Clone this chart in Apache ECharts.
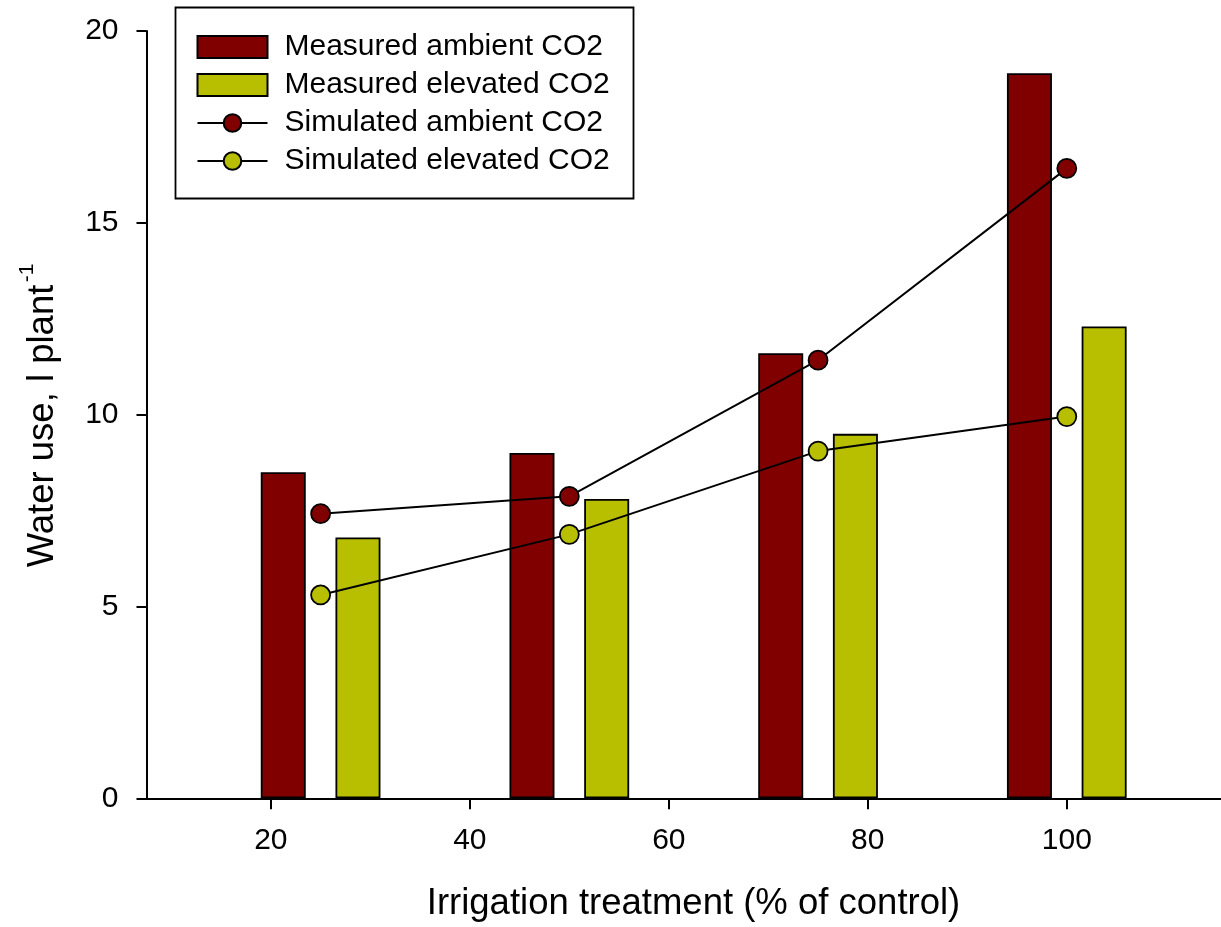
<!DOCTYPE html>
<html>
<head>
<meta charset="utf-8">
<script src="https://cdn.jsdelivr.net/npm/echarts@6/dist/echarts.min.js"></script>
<style>
  html, body { margin: 0; padding: 0; background: #fff; }
  #chart { width: 1221px; height: 927px; }
</style>
</head>
<body>
<div id="chart"></div>
<script>
// Irrigation treatments (% of control)
const treatments = [25, 50, 75, 100];
// Measured water use, l plant-1
const measuredAmbient = [8.5, 9.0, 11.6, 18.9];
const measuredElevated = [6.8, 7.8, 9.5, 12.3];
// Simulated water use, l plant-1
const simulatedAmbient = [7.42, 7.87, 11.42, 16.42];
const simulatedElevated = [5.3, 6.88, 9.05, 9.95];
// Tick values
const xTicks = [20, 40, 60, 80, 100];
const yTicks = [0, 5, 10, 15, 20];

const seriesNames = [
  'Measured ambient CO2',
  'Measured elevated CO2',
  'Simulated ambient CO2',
  'Simulated elevated CO2'
];

const RED = '#800000';
const OLIVE = '#b8bf00';
const FONT = '"Liberation Sans", Arial, Helvetica, sans-serif';

const pairs = (xs, ys) => xs.map((x, i) => [x, ys[i]]);

const chart = echarts.init(document.getElementById('chart'), null, { renderer: 'canvas' });

const barBase = {
  type: 'bar',
  barWidth: 45,
  barGap: '66%',
  emphasis: { disabled: true },
  z: 2
};
const lineBase = {
  type: 'line',
  symbol: 'circle',
  symbolSize: 19,
  lineStyle: { color: '#000', width: 2 },
  emphasis: { disabled: true },
  z: 3
};

chart.setOption({
  animation: false,
  backgroundColor: '#fff',
  grid: { left: 146.5, top: 31, right: 0, height: 767.3, containLabel: false },
  legend: {
    orient: 'vertical',
    left: 196.5,
    top: 32,
    padding: 0,
    itemWidth: 70,
    itemHeight: 22,
    itemGap: 8,
    selectedMode: false,
    textStyle: { fontFamily: FONT, fontSize: 30, color: '#000', padding: [0, 0, 0, 12] },
    data: [
      { name: seriesNames[0], icon: 'rect' },
      { name: seriesNames[1], icon: 'rect' },
      { name: seriesNames[2] },
      { name: seriesNames[3] }
    ]
  },
  graphic: [
    {
      type: 'rect',
      shape: { x: 175.5, y: 7.5, width: 458, height: 191 },
      style: { fill: 'none', stroke: '#000', lineWidth: 1.8 },
      z: 1
    },
    {
      type: 'text',
      x: 693.5,
      y: 904,
      style: {
        text: 'Irrigation treatment (% of control)',
        font: '36.5px ' + FONT,
        fill: '#000',
        textAlign: 'center',
        textVerticalAlign: 'middle'
      }
    },
    {
      type: 'text',
      x: 42.5,
      y: 426,
      rotation: Math.PI / 2,
      style: {
        text: 'Water use, l plant',
        font: '36.5px ' + FONT,
        fill: '#000',
        textAlign: 'center',
        textVerticalAlign: 'middle'
      }
    },
    {
      type: 'text',
      x: 27.5,
      y: 273,
      rotation: Math.PI / 2,
      style: {
        text: '-1',
        font: '21px ' + FONT,
        fill: '#000',
        textAlign: 'center',
        textVerticalAlign: 'middle'
      }
    }
  ],
  xAxis: {
    type: 'value',
    min: 7.5,
    max: 115.5,
    splitLine: { show: false },
    axisLine: { show: true, onZero: false, lineStyle: { color: '#000', width: 2 } },
    axisTick: { show: true, inside: false, length: 11, customValues: xTicks, lineStyle: { color: '#000', width: 2 } },
    axisLabel: { customValues: xTicks, margin: 27, fontFamily: FONT, fontSize: 30, color: '#000' }
  },
  yAxis: {
    type: 'value',
    min: 0,
    max: 20,
    interval: 5,
    splitLine: { show: false },
    axisLine: { show: true, lineStyle: { color: '#000', width: 2 } },
    axisTick: { show: true, inside: false, length: 10, customValues: yTicks, lineStyle: { color: '#000', width: 2 } },
    axisLabel: { customValues: yTicks, margin: 28, fontFamily: FONT, fontSize: 30, color: '#000' }
  },
  series: [
    Object.assign({}, barBase, {
      name: seriesNames[0],
      data: pairs(treatments, measuredAmbient),
      itemStyle: { color: RED, borderColor: '#000', borderWidth: 1.8 }
    }),
    Object.assign({}, barBase, {
      name: seriesNames[1],
      data: pairs(treatments, measuredElevated),
      itemStyle: { color: OLIVE, borderColor: '#000', borderWidth: 1.8 }
    }),
    Object.assign({}, lineBase, {
      name: seriesNames[2],
      data: pairs(treatments, simulatedAmbient),
      itemStyle: { color: RED, borderColor: '#000', borderWidth: 1.8 }
    }),
    Object.assign({}, lineBase, {
      name: seriesNames[3],
      data: pairs(treatments, simulatedElevated),
      itemStyle: { color: OLIVE, borderColor: '#000', borderWidth: 1.8 }
    })
  ]
});
</script>
</body>
</html>
